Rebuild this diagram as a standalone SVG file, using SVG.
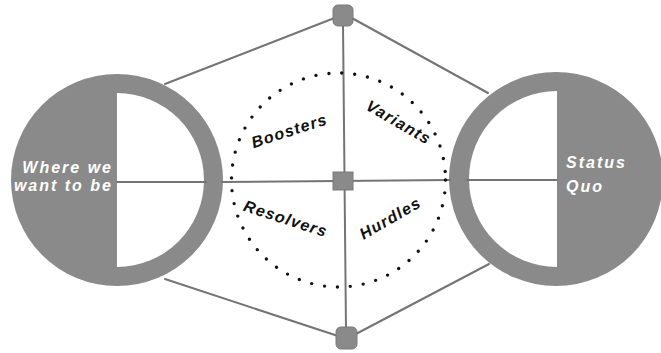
<svg xmlns="http://www.w3.org/2000/svg" width="661" height="353" viewBox="0 0 661 353">
<style>
.ring{fill:#8a8a8a}
.hole{fill:#ffffff}
.conn{stroke:#747474;stroke-width:2;fill:none;stroke-linecap:round}
.node{fill:#8a8a8a;stroke:#7a7a7a;stroke-width:1}
.dots{fill:none;stroke:#111;stroke-width:3.4;stroke-linecap:round;stroke-dasharray:0 13}
.lbl{font-family:"Liberation Sans",Arial,sans-serif;font-weight:bold;font-style:italic;font-size:16px;fill:#111;letter-spacing:1.2px}
.wlbl{font-family:"Liberation Sans",Arial,sans-serif;font-weight:bold;font-style:italic;font-size:16px;fill:#ffffff;letter-spacing:2px}
</style>
<rect width="661" height="353" fill="#ffffff"/>
<g id="connectors">
<line class="conn" x1="165" y1="84" x2="337" y2="17"/>
<line class="conn" x1="350" y1="17" x2="488" y2="93"/>
<line class="conn" x1="165" y1="279" x2="338" y2="336"/>
<line class="conn" x1="354" y1="335" x2="489" y2="264"/>
<line class="conn" x1="343" y1="24" x2="346" y2="330"/>
</g>
<g id="where-we-want-to-be">
<circle class="ring" cx="117" cy="180" r="106"/>
<path class="hole" d="M117,93 A87,87 0 0 1 117,267 Z"/>
<text class="wlbl" x="113" y="173" text-anchor="end">Where we</text>
<text class="wlbl" x="113" y="191" text-anchor="end">want to be</text>
</g>
<g id="status-quo">
<circle class="ring" cx="556" cy="179" r="107"/>
<path class="hole" d="M557,91 A88,88 0 0 0 557,267 Z"/>
<text class="wlbl" x="566" y="168">Status</text>
<text class="wlbl" x="566" y="192">Quo</text>
</g>
<g id="horizontal-connector">
<line class="conn" x1="117" y1="182" x2="206" y2="182"/>
<line class="conn" x1="222" y1="182" x2="450" y2="180"/>
<line class="conn" x1="467" y1="180" x2="557" y2="180"/>
</g>
<g id="forces">
<circle class="dots" cx="338.5" cy="180" r="107"/>
<text class="lbl" transform="translate(291,136) rotate(-18)" text-anchor="middle">Boosters</text>
<text class="lbl" transform="translate(396,127) rotate(30)" text-anchor="middle">Variants</text>
<text class="lbl" transform="translate(284,224) rotate(18)" text-anchor="middle">Resolvers</text>
<text class="lbl" transform="translate(393,223) rotate(-30)" text-anchor="middle">Hurdles</text>
</g>
<g id="top-node">
<rect class="node" x="333" y="5" width="20" height="21" rx="5"/>
</g>
<g id="center-node">
<rect class="node" x="333" y="172" width="20" height="18"/>
</g>
<g id="bottom-node">
<rect class="node" x="336" y="327" width="21" height="22" rx="5"/>
</g>
</svg>
